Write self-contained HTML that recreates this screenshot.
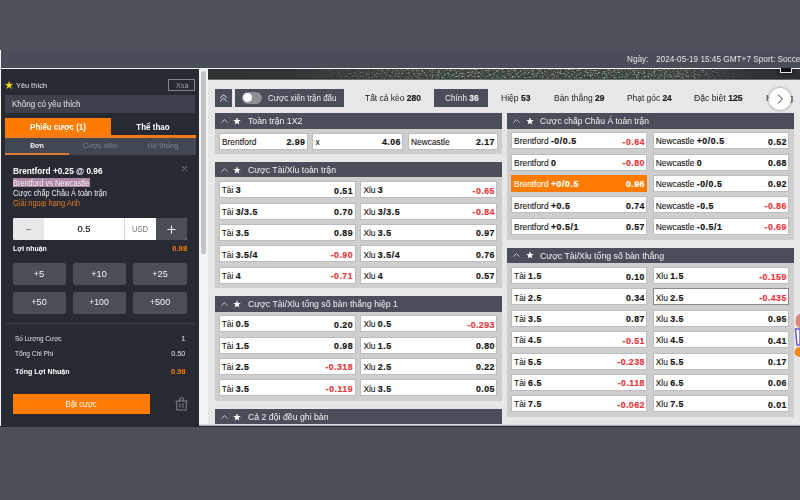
<!DOCTYPE html><html><head><meta charset="utf-8"><style>
*{margin:0;padding:0;box-sizing:border-box}
html,body{width:800px;height:500px;overflow:hidden;background:#4b4f58;font-family:"Liberation Sans",sans-serif}
div{position:absolute}
.t{white-space:nowrap;line-height:1}
.t b,.sb{-webkit-text-stroke:0.2px currentColor}
.cell{background:#fff;border:1px solid #bdbdbd}
.hdr{background:#4a4e5a}
.body{background:#cecece}
.qb{background:#4a4e57;border-radius:2px}
b{font-weight:bold}
</style></head><body>
<div style="left:0px;top:0px;width:800px;height:50px;background:#4d5159"></div>
<div style="left:0px;top:50px;width:800px;height:18px;background:#494d59"></div>
<div style="left:0px;top:68px;width:800px;height:1px;background:#f4f4f4"></div>
<div style="left:0px;top:50px;width:1px;height:376.5px;background:#f4f4f4"></div>
<div style="left:0px;top:426px;width:800px;height:1px;background:#23262e"></div>
<div style="left:1px;top:427px;width:799px;height:73px;background:#4b4f58"></div>
<div style="left:0px;top:427px;width:1px;height:73px;background:#4b4f58"></div>
<div class="t" style="top:54.69px;font-size:8.6px;line-height:8.6px;color:#e4e4e4;left:626.6px;transform:scaleX(0.953);transform-origin:left center;">Ngày:</div>
<div class="t" style="top:54.69px;font-size:8.6px;line-height:8.6px;color:#e4e4e4;left:655.8px;transform:scaleX(0.958);transform-origin:left center;">2024-05-19 15:45 GMT+7 Sport: Soccer</div>
<div style="left:1px;top:69px;width:197.5px;height:357px;background:#272a33"></div>
<svg style="position:absolute;left:4.5px;top:81px" width="8.2" height="8.2" viewBox="0 0 10 10"><path d="M5 0.3 L6.2 3.6 L9.7 3.7 L6.9 5.9 L7.9 9.4 L5 7.4 L2.1 9.4 L3.1 5.9 L0.3 3.7 L3.8 3.6Z" fill="#f4e41c" stroke="#a89a10" stroke-width="0.4"/></svg>
<div class="t" style="top:81.8px;font-size:8px;line-height:8px;color:#e8e8e8;left:15.7px;transform:scaleX(0.917);transform-origin:left center;">Yêu thích</div>
<div style="left:168px;top:79px;width:27px;height:12px;border:1px solid #7f838a"></div>
<div class="t" style="top:81.62px;font-size:7.5px;line-height:7.5px;color:#a0a3a8;left:175.5px;transform:scaleX(0.922);transform-origin:left center;">Xoá</div>
<div style="left:5px;top:95px;width:190px;height:18px;background:#3d414b"></div>
<div class="t" style="top:99.89px;font-size:8.6px;line-height:8.6px;color:#e6e6e6;left:11.8px;transform:scaleX(0.932);transform-origin:left center;">Không có yêu thích</div>
<div style="left:5px;top:118px;width:106.2px;height:16.5px;background:#ff7c00"></div>
<div style="left:5px;top:134.5px;width:190.6px;height:3.5px;background:#f07a16"></div>
<div class="t" style="top:122.68px;font-size:8.5px;line-height:8.5px;color:#fff;left:-42.3px;width:200px;text-align:center;font-weight:bold;transform:scaleX(0.931);transform-origin:center center;">Phiếu cược (1)</div>
<div class="t" style="top:122.68px;font-size:8.5px;line-height:8.5px;color:#fff;left:52.9px;width:200px;text-align:center;font-weight:bold;transform:scaleX(0.939);transform-origin:center center;">Thể thao</div>
<div style="left:5px;top:138px;width:190.6px;height:16.5px;background:#424853"></div>
<div class="t" style="top:141.64px;font-size:7.3px;line-height:7.3px;color:#f0f0f0;left:-63.5px;width:200px;text-align:center;font-weight:bold;transform:scaleX(0.905);transform-origin:center center;">Đơn</div>
<div class="t" style="top:141.8px;font-size:8px;line-height:8px;color:#737985;left:-0.4px;width:200px;text-align:center;transform:scaleX(0.919);transform-origin:center center;-webkit-text-stroke:0.15px currentColor;">Cược xiên</div>
<div class="t" style="top:141.8px;font-size:8px;line-height:8px;color:#737985;left:63.1px;width:200px;text-align:center;transform:scaleX(0.963);transform-origin:center center;-webkit-text-stroke:0.15px currentColor;">Hệ thống</div>
<div style="left:5px;top:152.6px;width:63.7px;height:2px;background:#dc7a36"></div>
<div class="t" style="top:166.69px;font-size:8.3px;line-height:8.3px;color:#fff;left:13px;font-weight:bold;transform:scaleX(0.995);transform-origin:left center;">Brentford +0.25 @ 0.96</div>
<svg style="position:absolute;left:181px;top:165px" width="7" height="7" viewBox="0 0 7 7"><path d="M1 1L6 6M6 1L1 6" stroke="#7a7e85" stroke-width="0.9"/></svg>
<div style="left:12.75px;top:177.8px;width:77.15px;height:9px;background:#ae87a4"></div>
<div class="t" style="top:179.63px;font-size:8.2px;line-height:8.2px;color:#f4eef2;left:13px;transform:scaleX(0.904);transform-origin:left center;">Brentford vs Newcastle</div>
<div class="t" style="top:189.63px;font-size:8.2px;line-height:8.2px;color:#f0f0f0;left:13px;transform:scaleX(0.893);transform-origin:left center;">Cược chấp Châu Á toàn trận</div>
<div class="t" style="top:199.93px;font-size:8.2px;line-height:8.2px;color:#e27a22;left:13px;transform:scaleX(0.907);transform-origin:left center;">Giải ngoại hạng Anh</div>
<div style="left:13px;top:218.3px;width:174px;height:21.7px;background:#fff;border-radius:2px;overflow:hidden"><div style="left:0px;top:0px;width:30.7px;height:21.7px;background:#e8e8e8"></div><div style="left:111.2px;top:0px;width:32px;height:21.7px;border-left:1px solid #d8d8d8"></div><div style="left:143.2px;top:0px;width:30.8px;height:21.7px;background:#4a4e57"></div></div>
<div style="left:25.8px;top:229px;width:5.2px;height:1.2px;background:#8a8a8a"></div>
<div class="t" style="top:224.59px;font-size:9.3px;line-height:9.3px;color:#1a1a1a;left:-16px;width:200px;text-align:center;transform:scaleX(1.006);transform-origin:center center;-webkit-text-stroke:0.2px currentColor;">0.5</div>
<div class="t" style="top:225.19px;font-size:8.6px;line-height:8.6px;color:#7a7a7a;left:40.2px;width:200px;text-align:center;transform:scaleX(0.895);transform-origin:center center;">USD</div>
<svg style="position:absolute;left:167px;top:224.5px" width="9" height="9" viewBox="0 0 9 9"><path d="M4.5 0.5v8M0.5 4.5h8" stroke="#f2f2f2" stroke-width="1.1"/></svg>
<div class="t" style="top:245.37px;font-size:7.8px;line-height:7.8px;color:#fff;left:13px;font-weight:bold;transform:scaleX(0.887);transform-origin:left center;">Lợi nhuận</div>
<div class="t" style="top:245.37px;font-size:7.8px;line-height:7.8px;color:#ff7c00;right:613px;font-weight:bold;transform:scaleX(0.988);transform-origin:right center;">0.98</div>
<div class="qb" style="left:13px;top:262.5px;width:52.6px;height:22.2px;"></div>
<div class="t" style="top:270.48px;font-size:9.2px;line-height:9.2px;color:#f4f4f4;left:-60.7px;width:200px;text-align:center;transform:scaleX(1.030);transform-origin:center center;">+5</div>
<div class="qb" style="left:73px;top:262.5px;width:52.8px;height:22.2px;"></div>
<div class="t" style="top:270.48px;font-size:9.2px;line-height:9.2px;color:#f4f4f4;left:-0.6px;width:200px;text-align:center;transform:scaleX(0.993);transform-origin:center center;">+10</div>
<div class="qb" style="left:133.3px;top:262.5px;width:53.7px;height:22.2px;"></div>
<div class="t" style="top:270.48px;font-size:9.2px;line-height:9.2px;color:#f4f4f4;left:60.15px;width:200px;text-align:center;transform:scaleX(0.993);transform-origin:center center;">+25</div>
<div class="qb" style="left:13px;top:291.5px;width:52.6px;height:22.3px;"></div>
<div class="t" style="top:298.08px;font-size:9.2px;line-height:9.2px;color:#f4f4f4;left:-60.7px;width:200px;text-align:center;transform:scaleX(0.993);transform-origin:center center;">+50</div>
<div class="qb" style="left:73px;top:291.5px;width:52.8px;height:22.3px;"></div>
<div class="t" style="top:298.08px;font-size:9.2px;line-height:9.2px;color:#f4f4f4;left:-0.6px;width:200px;text-align:center;transform:scaleX(0.941);transform-origin:center center;">+100</div>
<div class="qb" style="left:133.3px;top:291.5px;width:53.7px;height:22.3px;"></div>
<div class="t" style="top:298.08px;font-size:9.2px;line-height:9.2px;color:#f4f4f4;left:60.15px;width:200px;text-align:center;transform:scaleX(0.984);transform-origin:center center;">+500</div>
<div style="left:5px;top:323.3px;width:190px;height:1px;background:#3c4049"></div>
<div class="t" style="top:334.8px;font-size:7.3px;line-height:7.3px;color:#e4e4e4;left:14.5px;transform:scaleX(0.870);transform-origin:left center;">Số Lượng Cược</div>
<div class="t" style="top:334.8px;font-size:7.3px;line-height:7.3px;color:#e4e4e4;right:614.7px;">1</div>
<div class="t" style="top:349.6px;font-size:7.3px;line-height:7.3px;color:#e4e4e4;left:14.5px;transform:scaleX(0.904);transform-origin:left center;">Tổng Chi Phí</div>
<div class="t" style="top:349.6px;font-size:7.3px;line-height:7.3px;color:#e4e4e4;right:614.7px;transform:scaleX(0.985);transform-origin:right center;">0.50</div>
<div class="t" style="top:367.62px;font-size:7.5px;line-height:7.5px;color:#fff;left:14.5px;font-weight:bold;transform:scaleX(0.943);transform-origin:left center;">Tổng Lợi Nhuận</div>
<div class="t" style="top:367.62px;font-size:7.5px;line-height:7.5px;color:#ff7c00;right:614.7px;font-weight:bold;transform:scaleX(0.993);transform-origin:right center;">0.98</div>
<div style="left:13px;top:393.8px;width:136.5px;height:20px;background:#ff7c00"></div>
<div class="t" style="top:400.29px;font-size:8.6px;line-height:8.6px;color:#fff;left:-19px;width:200px;text-align:center;transform:scaleX(0.867);transform-origin:center center;">Đặt cược</div>
<svg style="position:absolute;left:174.5px;top:396.5px" width="13" height="14" viewBox="0 0 13 14"><g fill="none" stroke="#777b83" stroke-width="1.1"><path d="M0.5 4h12"/><path d="M4.5 4V2.5Q4.5 0.8 6.5 0.8Q8.5 0.8 8.5 2.5V4"/><path d="M1.8 4v9h9.4V4"/><path d="M5 6.2v4.6M8 6.2v4.6"/></g></svg>
<div style="left:198.5px;top:69px;width:9.5px;height:357px;background:#f3f3f3"></div>
<div style="left:201px;top:70.5px;width:5.2px;height:183.5px;background:#c3c3c3;border-radius:2.6px"></div>
<div style="left:208px;top:69px;width:592px;height:357px;background:#e7e7e7"></div>
<div style="left:198.5px;top:424.3px;width:601.5px;height:1.7px;background:linear-gradient(#e7e7e7,#9a9da2)"></div>
<svg style="position:absolute;left:208px;top:69px" width="592" height="10.5" viewBox="0 0 592 10.5"><defs><filter id="nz" x="0" y="0" width="100%" height="100%"><feTurbulence type="fractalNoise" baseFrequency="0.5 0.7" numOctaves="3" seed="5"/><feColorMatrix type="matrix" values="0 0 0 0 0.62  0 0 0 0 0.70  0 0 0 0 0.62  0 0 0 2.2 -1.05"/></filter><linearGradient id="bg1" x1="0" x2="1" y1="0" y2="0"><stop offset="0" stop-color="#2d3233"/><stop offset="0.15" stop-color="#303635"/><stop offset="0.25" stop-color="#363d39"/><stop offset="0.35" stop-color="#3a423c"/><stop offset="0.78" stop-color="#3b433d"/><stop offset="0.88" stop-color="#30363a"/><stop offset="1" stop-color="#2a2e32"/></linearGradient><linearGradient id="mk" x1="0" x2="1" y1="0" y2="0"><stop offset="0" stop-color="#fff" stop-opacity="0"/><stop offset="0.15" stop-color="#fff" stop-opacity="0.03"/><stop offset="0.22" stop-color="#fff" stop-opacity="0.25"/><stop offset="0.3" stop-color="#fff" stop-opacity="0.6"/><stop offset="0.4" stop-color="#fff" stop-opacity="0.9"/><stop offset="0.8" stop-color="#fff" stop-opacity="1"/><stop offset="0.87" stop-color="#fff" stop-opacity="0.25"/><stop offset="0.93" stop-color="#fff" stop-opacity="0"/></linearGradient><mask id="m1"><rect width="592" height="10.5" fill="url(#mk)"/></mask></defs><rect width="592" height="10.5" fill="url(#bg1)"/><rect width="592" height="10.5" filter="url(#nz)" mask="url(#m1)"/><rect y="9.5" width="592" height="1" fill="#262a2c" opacity="0.6"/></svg>
<div style="left:214.7px;top:89px;width:17.1px;height:17.5px;background:#4a4e5a"></div>
<svg style="position:absolute;left:218px;top:92px" width="11" height="11" viewBox="0 0 11 11"><g fill="none" stroke="#e6e6e6" stroke-width="1"><path d="M2.2 6L5.5 2.7L8.8 6"/><path d="M2.2 9.3L5.5 6L8.8 9.3"/></g></svg>
<div style="left:235px;top:89px;width:108.8px;height:17.5px;background:#4a4e5a"></div>
<div style="left:241.6px;top:92px;width:20.6px;height:11.7px;background:#8c8f95;border-radius:6px"></div>
<div style="left:242.8px;top:92.8px;width:9.5px;height:9.5px;background:#fff;border-radius:50%"></div>
<div class="t" style="top:93.59px;font-size:8.6px;line-height:8.6px;color:#f0f0f0;left:267.5px;transform:scaleX(0.925);transform-origin:left center;">Cược xiên trận đấu</div>
<div class="t" style="top:93.69px;font-size:8.6px;line-height:8.6px;color:#222;left:365px;transform:scaleX(0.984);transform-origin:left center;">Tất cả kèo <b>280</b></div>
<div style="left:434.2px;top:89.2px;width:54px;height:17.5px;background:#4a4e5a"></div>
<div class="t" style="top:93.69px;font-size:8.6px;line-height:8.6px;color:#f0f0f0;left:444.5px;transform:scaleX(0.960);transform-origin:left center;">Chính <b>36</b></div>
<div class="t" style="top:93.69px;font-size:8.6px;line-height:8.6px;color:#222;left:501px;transform:scaleX(0.995);transform-origin:left center;">Hiệp <b>53</b></div>
<div class="t" style="top:93.69px;font-size:8.6px;line-height:8.6px;color:#222;left:553.6px;transform:scaleX(0.985);transform-origin:left center;">Bàn thắng <b>29</b></div>
<div class="t" style="top:93.69px;font-size:8.6px;line-height:8.6px;color:#222;left:626.8px;transform:scaleX(0.976);transform-origin:left center;">Phạt góc <b>24</b></div>
<div class="t" style="top:93.69px;font-size:8.6px;line-height:8.6px;color:#222;left:694.4px;transform:scaleX(1.007);transform-origin:left center;">Đặc biệt <b>125</b></div>
<div class="t" style="top:93.69px;font-size:8.6px;line-height:8.6px;color:#222;left:766px;">Hướng</div>
<div style="left:768.5px;top:87.5px;width:22.5px;height:22.5px;background:#fff;border-radius:50%;box-shadow:0 0 2.5px 0.5px rgba(0,0,0,.3)"></div>
<svg style="position:absolute;left:775px;top:93px" width="10" height="12" viewBox="0 0 10 12"><path d="M3 1.5L7.5 6L3 10.5" fill="none" stroke="#333" stroke-width="1"/></svg>
<div style="left:776px;top:69px;width:19px;height:6px;background:#25292c"></div>
<div style="left:780px;top:68px;width:12px;height:5px;background:#111;border:1.2px solid #e8e8e8;border-top:none;border-radius:0 0 1px 1px"></div>
<div class="hdr" style="left:214.5px;top:113px;width:287.1px;height:15.5px;"></div>
<svg style="position:absolute;left:220.7px;top:118.8px" width="7" height="4" viewBox="0 0 7 4"><path d="M0.5 3.6L3.5 0.6L6.5 3.6" fill="none" stroke="#cfd1d5" stroke-width="0.9"/></svg>
<svg style="position:absolute;left:233.3px;top:116.6px" width="8" height="8" viewBox="0 0 10 10"><path d="M5 0.3 L6.2 3.6 L9.7 3.7 L6.9 5.9 L7.9 9.4 L5 7.4 L2.1 9.4 L3.1 5.9 L0.3 3.7 L3.8 3.6Z" fill="#fff"/></svg>
<div class="t" style="top:117.09px;font-size:9.3px;line-height:9.3px;color:#f2f2f2;left:247.5px;transform:scaleX(0.938);transform-origin:left center;">Toàn trận 1X2</div>
<div class="body" style="left:214.5px;top:128.5px;width:287.1px;height:25px;"></div>
<div class="cell" style="left:218.75px;top:132.75px;width:89.25px;height:17.15px;"></div>
<div class="t" style="top:138.01px;font-size:8.4px;line-height:8.4px;color:#151515;left:221.95px;-webkit-text-stroke:0.1px currentColor;">Brentford</div>
<div class="t" style="top:138.17px;font-size:8.8px;line-height:8.8px;color:#151515;right:494.6px;font-weight:bold;letter-spacing:0.45px;-webkit-text-stroke:0.2px currentColor;">2.99</div>
<div class="cell" style="left:312.4px;top:132.75px;width:91px;height:17.15px;"></div>
<div class="t" style="top:138.01px;font-size:8.4px;line-height:8.4px;color:#151515;left:315.6px;-webkit-text-stroke:0.1px currentColor;">x</div>
<div class="t" style="top:138.17px;font-size:8.8px;line-height:8.8px;color:#151515;right:399.2px;font-weight:bold;letter-spacing:0.45px;-webkit-text-stroke:0.2px currentColor;">4.06</div>
<div class="cell" style="left:407.75px;top:132.75px;width:89.75px;height:17.15px;"></div>
<div class="t" style="top:138.01px;font-size:8.4px;line-height:8.4px;color:#151515;left:410.95px;-webkit-text-stroke:0.1px currentColor;">Newcastle</div>
<div class="t" style="top:138.17px;font-size:8.8px;line-height:8.8px;color:#151515;right:305.1px;font-weight:bold;letter-spacing:0.45px;-webkit-text-stroke:0.2px currentColor;">2.17</div>
<div class="hdr" style="left:214.5px;top:162px;width:287.1px;height:15px;"></div>
<svg style="position:absolute;left:220.7px;top:167.8px" width="7" height="4" viewBox="0 0 7 4"><path d="M0.5 3.6L3.5 0.6L6.5 3.6" fill="none" stroke="#cfd1d5" stroke-width="0.9"/></svg>
<svg style="position:absolute;left:233.3px;top:165.6px" width="8" height="8" viewBox="0 0 10 10"><path d="M5 0.3 L6.2 3.6 L9.7 3.7 L6.9 5.9 L7.9 9.4 L5 7.4 L2.1 9.4 L3.1 5.9 L0.3 3.7 L3.8 3.6Z" fill="#fff"/></svg>
<div class="t" style="top:166.09px;font-size:9.3px;line-height:9.3px;color:#f2f2f2;left:247.5px;transform:scaleX(0.933);transform-origin:left center;">Cược Tài/Xỉu toàn trận</div>
<div class="body" style="left:214.5px;top:177px;width:287.1px;height:111px;"></div>
<div class="cell" style="left:218.5px;top:181.2px;width:137.1px;height:17px;"></div>
<div class="t" style="top:186.46px;font-size:8.4px;line-height:8.4px;color:#151515;left:221.7px;-webkit-text-stroke:0.1px currentColor;">Tài <b style="font-size:8.8px;letter-spacing:0.55px">3</b></div>
<div class="t" style="top:186.62px;font-size:8.8px;line-height:8.8px;color:#151515;right:447px;font-weight:bold;letter-spacing:0.45px;-webkit-text-stroke:0.2px currentColor;">0.51</div>
<div class="cell" style="left:360.2px;top:181.2px;width:137.3px;height:17px;"></div>
<div class="t" style="top:186.46px;font-size:8.4px;line-height:8.4px;color:#151515;left:363.4px;-webkit-text-stroke:0.1px currentColor;">Xỉu <b style="font-size:8.8px;letter-spacing:0.55px">3</b></div>
<div class="t" style="top:186.62px;font-size:8.8px;line-height:8.8px;color:#e8383d;right:305.1px;font-weight:bold;letter-spacing:0.45px;-webkit-text-stroke:0.2px currentColor;">-0.65</div>
<div class="cell" style="left:218.5px;top:202.55px;width:137.1px;height:17px;"></div>
<div class="t" style="top:207.81px;font-size:8.4px;line-height:8.4px;color:#151515;left:221.7px;-webkit-text-stroke:0.1px currentColor;">Tài <b style="font-size:8.8px;letter-spacing:0.55px">3/3.5</b></div>
<div class="t" style="top:207.97px;font-size:8.8px;line-height:8.8px;color:#151515;right:447px;font-weight:bold;letter-spacing:0.45px;-webkit-text-stroke:0.2px currentColor;">0.70</div>
<div class="cell" style="left:360.2px;top:202.55px;width:137.3px;height:17px;"></div>
<div class="t" style="top:207.81px;font-size:8.4px;line-height:8.4px;color:#151515;left:363.4px;-webkit-text-stroke:0.1px currentColor;">Xỉu <b style="font-size:8.8px;letter-spacing:0.55px">3/3.5</b></div>
<div class="t" style="top:207.97px;font-size:8.8px;line-height:8.8px;color:#e8383d;right:305.1px;font-weight:bold;letter-spacing:0.45px;-webkit-text-stroke:0.2px currentColor;">-0.84</div>
<div class="cell" style="left:218.5px;top:223.9px;width:137.1px;height:17px;"></div>
<div class="t" style="top:229.16px;font-size:8.4px;line-height:8.4px;color:#151515;left:221.7px;-webkit-text-stroke:0.1px currentColor;">Tài <b style="font-size:8.8px;letter-spacing:0.55px">3.5</b></div>
<div class="t" style="top:229.32px;font-size:8.8px;line-height:8.8px;color:#151515;right:447px;font-weight:bold;letter-spacing:0.45px;-webkit-text-stroke:0.2px currentColor;">0.89</div>
<div class="cell" style="left:360.2px;top:223.9px;width:137.3px;height:17px;"></div>
<div class="t" style="top:229.16px;font-size:8.4px;line-height:8.4px;color:#151515;left:363.4px;-webkit-text-stroke:0.1px currentColor;">Xỉu <b style="font-size:8.8px;letter-spacing:0.55px">3.5</b></div>
<div class="t" style="top:229.32px;font-size:8.8px;line-height:8.8px;color:#151515;right:305.1px;font-weight:bold;letter-spacing:0.45px;-webkit-text-stroke:0.2px currentColor;">0.97</div>
<div class="cell" style="left:218.5px;top:245.25px;width:137.1px;height:17px;"></div>
<div class="t" style="top:250.51px;font-size:8.4px;line-height:8.4px;color:#151515;left:221.7px;-webkit-text-stroke:0.1px currentColor;">Tài <b style="font-size:8.8px;letter-spacing:0.55px">3.5/4</b></div>
<div class="t" style="top:250.67px;font-size:8.8px;line-height:8.8px;color:#e8383d;right:447px;font-weight:bold;letter-spacing:0.45px;-webkit-text-stroke:0.2px currentColor;">-0.90</div>
<div class="cell" style="left:360.2px;top:245.25px;width:137.3px;height:17px;"></div>
<div class="t" style="top:250.51px;font-size:8.4px;line-height:8.4px;color:#151515;left:363.4px;-webkit-text-stroke:0.1px currentColor;">Xỉu <b style="font-size:8.8px;letter-spacing:0.55px">3.5/4</b></div>
<div class="t" style="top:250.67px;font-size:8.8px;line-height:8.8px;color:#151515;right:305.1px;font-weight:bold;letter-spacing:0.45px;-webkit-text-stroke:0.2px currentColor;">0.76</div>
<div class="cell" style="left:218.5px;top:266.6px;width:137.1px;height:17px;"></div>
<div class="t" style="top:271.86px;font-size:8.4px;line-height:8.4px;color:#151515;left:221.7px;-webkit-text-stroke:0.1px currentColor;">Tài <b style="font-size:8.8px;letter-spacing:0.55px">4</b></div>
<div class="t" style="top:272.02px;font-size:8.8px;line-height:8.8px;color:#e8383d;right:447px;font-weight:bold;letter-spacing:0.45px;-webkit-text-stroke:0.2px currentColor;">-0.71</div>
<div class="cell" style="left:360.2px;top:266.6px;width:137.3px;height:17px;"></div>
<div class="t" style="top:271.86px;font-size:8.4px;line-height:8.4px;color:#151515;left:363.4px;-webkit-text-stroke:0.1px currentColor;">Xỉu <b style="font-size:8.8px;letter-spacing:0.55px">4</b></div>
<div class="t" style="top:272.02px;font-size:8.8px;line-height:8.8px;color:#151515;right:305.1px;font-weight:bold;letter-spacing:0.45px;-webkit-text-stroke:0.2px currentColor;">0.57</div>
<div class="hdr" style="left:214.5px;top:296px;width:287.1px;height:15.6px;"></div>
<svg style="position:absolute;left:220.7px;top:301.8px" width="7" height="4" viewBox="0 0 7 4"><path d="M0.5 3.6L3.5 0.6L6.5 3.6" fill="none" stroke="#cfd1d5" stroke-width="0.9"/></svg>
<svg style="position:absolute;left:233.3px;top:299.6px" width="8" height="8" viewBox="0 0 10 10"><path d="M5 0.3 L6.2 3.6 L9.7 3.7 L6.9 5.9 L7.9 9.4 L5 7.4 L2.1 9.4 L3.1 5.9 L0.3 3.7 L3.8 3.6Z" fill="#fff"/></svg>
<div class="t" style="top:300.1px;font-size:9.3px;line-height:9.3px;color:#f2f2f2;left:247.5px;transform:scaleX(0.937);transform-origin:left center;">Cược Tài/Xỉu tổng số bàn thắng hiệp 1</div>
<div class="body" style="left:214.5px;top:311.6px;width:287.1px;height:89.7px;"></div>
<div class="cell" style="left:218.5px;top:315.2px;width:137.1px;height:17px;"></div>
<div class="t" style="top:320.46px;font-size:8.4px;line-height:8.4px;color:#151515;left:221.7px;-webkit-text-stroke:0.1px currentColor;">Tài <b style="font-size:8.8px;letter-spacing:0.55px">0.5</b></div>
<div class="t" style="top:320.62px;font-size:8.8px;line-height:8.8px;color:#151515;right:447px;font-weight:bold;letter-spacing:0.45px;-webkit-text-stroke:0.2px currentColor;">0.20</div>
<div class="cell" style="left:360.2px;top:315.2px;width:137.3px;height:17px;"></div>
<div class="t" style="top:320.46px;font-size:8.4px;line-height:8.4px;color:#151515;left:363.4px;-webkit-text-stroke:0.1px currentColor;">Xỉu <b style="font-size:8.8px;letter-spacing:0.55px">0.5</b></div>
<div class="t" style="top:320.62px;font-size:8.8px;line-height:8.8px;color:#e8383d;right:305.1px;font-weight:bold;letter-spacing:0.45px;-webkit-text-stroke:0.2px currentColor;">-0.293</div>
<div class="cell" style="left:218.5px;top:336.55px;width:137.1px;height:17px;"></div>
<div class="t" style="top:341.81px;font-size:8.4px;line-height:8.4px;color:#151515;left:221.7px;-webkit-text-stroke:0.1px currentColor;">Tài <b style="font-size:8.8px;letter-spacing:0.55px">1.5</b></div>
<div class="t" style="top:341.97px;font-size:8.8px;line-height:8.8px;color:#151515;right:447px;font-weight:bold;letter-spacing:0.45px;-webkit-text-stroke:0.2px currentColor;">0.98</div>
<div class="cell" style="left:360.2px;top:336.55px;width:137.3px;height:17px;"></div>
<div class="t" style="top:341.81px;font-size:8.4px;line-height:8.4px;color:#151515;left:363.4px;-webkit-text-stroke:0.1px currentColor;">Xỉu <b style="font-size:8.8px;letter-spacing:0.55px">1.5</b></div>
<div class="t" style="top:341.97px;font-size:8.8px;line-height:8.8px;color:#151515;right:305.1px;font-weight:bold;letter-spacing:0.45px;-webkit-text-stroke:0.2px currentColor;">0.80</div>
<div class="cell" style="left:218.5px;top:357.9px;width:137.1px;height:17px;"></div>
<div class="t" style="top:363.16px;font-size:8.4px;line-height:8.4px;color:#151515;left:221.7px;-webkit-text-stroke:0.1px currentColor;">Tài <b style="font-size:8.8px;letter-spacing:0.55px">2.5</b></div>
<div class="t" style="top:363.32px;font-size:8.8px;line-height:8.8px;color:#e8383d;right:447px;font-weight:bold;letter-spacing:0.45px;-webkit-text-stroke:0.2px currentColor;">-0.318</div>
<div class="cell" style="left:360.2px;top:357.9px;width:137.3px;height:17px;"></div>
<div class="t" style="top:363.16px;font-size:8.4px;line-height:8.4px;color:#151515;left:363.4px;-webkit-text-stroke:0.1px currentColor;">Xỉu <b style="font-size:8.8px;letter-spacing:0.55px">2.5</b></div>
<div class="t" style="top:363.32px;font-size:8.8px;line-height:8.8px;color:#151515;right:305.1px;font-weight:bold;letter-spacing:0.45px;-webkit-text-stroke:0.2px currentColor;">0.22</div>
<div class="cell" style="left:218.5px;top:379.25px;width:137.1px;height:17px;"></div>
<div class="t" style="top:384.51px;font-size:8.4px;line-height:8.4px;color:#151515;left:221.7px;-webkit-text-stroke:0.1px currentColor;">Tài <b style="font-size:8.8px;letter-spacing:0.55px">3.5</b></div>
<div class="t" style="top:384.67px;font-size:8.8px;line-height:8.8px;color:#e8383d;right:447px;font-weight:bold;letter-spacing:0.45px;-webkit-text-stroke:0.2px currentColor;">-0.119</div>
<div class="cell" style="left:360.2px;top:379.25px;width:137.3px;height:17px;"></div>
<div class="t" style="top:384.51px;font-size:8.4px;line-height:8.4px;color:#151515;left:363.4px;-webkit-text-stroke:0.1px currentColor;">Xỉu <b style="font-size:8.8px;letter-spacing:0.55px">3.5</b></div>
<div class="t" style="top:384.67px;font-size:8.8px;line-height:8.8px;color:#151515;right:305.1px;font-weight:bold;letter-spacing:0.45px;-webkit-text-stroke:0.2px currentColor;">0.05</div>
<div class="hdr" style="left:214.5px;top:409.3px;width:287.1px;height:14.5px;"></div>
<svg style="position:absolute;left:220.7px;top:415.1px" width="7" height="4" viewBox="0 0 7 4"><path d="M0.5 3.6L3.5 0.6L6.5 3.6" fill="none" stroke="#cfd1d5" stroke-width="0.9"/></svg>
<svg style="position:absolute;left:233.3px;top:412.9px" width="8" height="8" viewBox="0 0 10 10"><path d="M5 0.3 L6.2 3.6 L9.7 3.7 L6.9 5.9 L7.9 9.4 L5 7.4 L2.1 9.4 L3.1 5.9 L0.3 3.7 L3.8 3.6Z" fill="#fff"/></svg>
<div class="t" style="top:413.4px;font-size:9.3px;line-height:9.3px;color:#f2f2f2;left:247.5px;transform:scaleX(0.939);transform-origin:left center;">Cả 2 đội đều ghi bàn</div>
<div class="hdr" style="left:507.1px;top:113px;width:286.7px;height:15.5px;"></div>
<svg style="position:absolute;left:513.3px;top:118.8px" width="7" height="4" viewBox="0 0 7 4"><path d="M0.5 3.6L3.5 0.6L6.5 3.6" fill="none" stroke="#cfd1d5" stroke-width="0.9"/></svg>
<svg style="position:absolute;left:525.9px;top:116.6px" width="8" height="8" viewBox="0 0 10 10"><path d="M5 0.3 L6.2 3.6 L9.7 3.7 L6.9 5.9 L7.9 9.4 L5 7.4 L2.1 9.4 L3.1 5.9 L0.3 3.7 L3.8 3.6Z" fill="#fff"/></svg>
<div class="t" style="top:117.09px;font-size:9.3px;line-height:9.3px;color:#f2f2f2;left:540.1px;transform:scaleX(0.913);transform-origin:left center;">Cược chấp Châu Á toàn trận</div>
<div class="body" style="left:507.1px;top:128.5px;width:286.7px;height:111px;"></div>
<div class="cell" style="left:510.9px;top:132.2px;width:136.6px;height:17px;"></div>
<div class="t" style="top:137.46px;font-size:8.4px;line-height:8.4px;color:#151515;left:514.1px;-webkit-text-stroke:0.1px currentColor;">Brentford <b style="font-size:8.8px;letter-spacing:0.55px">-0/0.5</b></div>
<div class="t" style="top:137.62px;font-size:8.8px;line-height:8.8px;color:#e8383d;right:155.1px;font-weight:bold;letter-spacing:0.45px;-webkit-text-stroke:0.2px currentColor;">-0.64</div>
<div class="cell" style="left:652.5px;top:132.2px;width:136.9px;height:17px;"></div>
<div class="t" style="top:137.46px;font-size:8.4px;line-height:8.4px;color:#151515;left:655.7px;-webkit-text-stroke:0.1px currentColor;">Newcastle <b style="font-size:8.8px;letter-spacing:0.55px">+0/0.5</b></div>
<div class="t" style="top:137.62px;font-size:8.8px;line-height:8.8px;color:#151515;right:13.2px;font-weight:bold;letter-spacing:0.45px;-webkit-text-stroke:0.2px currentColor;">0.52</div>
<div class="cell" style="left:510.9px;top:153.55px;width:136.6px;height:17px;"></div>
<div class="t" style="top:158.81px;font-size:8.4px;line-height:8.4px;color:#151515;left:514.1px;-webkit-text-stroke:0.1px currentColor;">Brentford <b style="font-size:8.8px;letter-spacing:0.55px">0</b></div>
<div class="t" style="top:158.97px;font-size:8.8px;line-height:8.8px;color:#e8383d;right:155.1px;font-weight:bold;letter-spacing:0.45px;-webkit-text-stroke:0.2px currentColor;">-0.80</div>
<div class="cell" style="left:652.5px;top:153.55px;width:136.9px;height:17px;"></div>
<div class="t" style="top:158.81px;font-size:8.4px;line-height:8.4px;color:#151515;left:655.7px;-webkit-text-stroke:0.1px currentColor;">Newcastle <b style="font-size:8.8px;letter-spacing:0.55px">0</b></div>
<div class="t" style="top:158.97px;font-size:8.8px;line-height:8.8px;color:#151515;right:13.2px;font-weight:bold;letter-spacing:0.45px;-webkit-text-stroke:0.2px currentColor;">0.68</div>
<div class="cell" style="left:510.9px;top:174.9px;width:136.6px;height:17px;background:#ff7c00;border-color:#ff7c00"></div>
<div class="t" style="top:180.16px;font-size:8.4px;line-height:8.4px;color:#fff;left:514.1px;-webkit-text-stroke:0.1px currentColor;">Brentford <b style="font-size:8.8px;letter-spacing:0.55px">+0/0.5</b></div>
<div class="t" style="top:180.32px;font-size:8.8px;line-height:8.8px;color:#fff;right:155.1px;font-weight:bold;letter-spacing:0.45px;-webkit-text-stroke:0.2px currentColor;">0.96</div>
<div class="cell" style="left:652.5px;top:174.9px;width:136.9px;height:17px;"></div>
<div class="t" style="top:180.16px;font-size:8.4px;line-height:8.4px;color:#151515;left:655.7px;-webkit-text-stroke:0.1px currentColor;">Newcastle <b style="font-size:8.8px;letter-spacing:0.55px">-0/0.5</b></div>
<div class="t" style="top:180.32px;font-size:8.8px;line-height:8.8px;color:#151515;right:13.2px;font-weight:bold;letter-spacing:0.45px;-webkit-text-stroke:0.2px currentColor;">0.92</div>
<div class="cell" style="left:510.9px;top:196.25px;width:136.6px;height:17px;"></div>
<div class="t" style="top:201.51px;font-size:8.4px;line-height:8.4px;color:#151515;left:514.1px;-webkit-text-stroke:0.1px currentColor;">Brentford <b style="font-size:8.8px;letter-spacing:0.55px">+0.5</b></div>
<div class="t" style="top:201.67px;font-size:8.8px;line-height:8.8px;color:#151515;right:155.1px;font-weight:bold;letter-spacing:0.45px;-webkit-text-stroke:0.2px currentColor;">0.74</div>
<div class="cell" style="left:652.5px;top:196.25px;width:136.9px;height:17px;"></div>
<div class="t" style="top:201.51px;font-size:8.4px;line-height:8.4px;color:#151515;left:655.7px;-webkit-text-stroke:0.1px currentColor;">Newcastle <b style="font-size:8.8px;letter-spacing:0.55px">-0.5</b></div>
<div class="t" style="top:201.67px;font-size:8.8px;line-height:8.8px;color:#e8383d;right:13.2px;font-weight:bold;letter-spacing:0.45px;-webkit-text-stroke:0.2px currentColor;">-0.86</div>
<div class="cell" style="left:510.9px;top:217.6px;width:136.6px;height:17px;"></div>
<div class="t" style="top:222.86px;font-size:8.4px;line-height:8.4px;color:#151515;left:514.1px;-webkit-text-stroke:0.1px currentColor;">Brentford <b style="font-size:8.8px;letter-spacing:0.55px">+0.5/1</b></div>
<div class="t" style="top:223.02px;font-size:8.8px;line-height:8.8px;color:#151515;right:155.1px;font-weight:bold;letter-spacing:0.45px;-webkit-text-stroke:0.2px currentColor;">0.57</div>
<div class="cell" style="left:652.5px;top:217.6px;width:136.9px;height:17px;"></div>
<div class="t" style="top:222.86px;font-size:8.4px;line-height:8.4px;color:#151515;left:655.7px;-webkit-text-stroke:0.1px currentColor;">Newcastle <b style="font-size:8.8px;letter-spacing:0.55px">-0.5/1</b></div>
<div class="t" style="top:223.02px;font-size:8.8px;line-height:8.8px;color:#e8383d;right:13.2px;font-weight:bold;letter-spacing:0.45px;-webkit-text-stroke:0.2px currentColor;">-0.69</div>
<div class="hdr" style="left:507.1px;top:247.5px;width:286.7px;height:15px;"></div>
<svg style="position:absolute;left:513.3px;top:253.3px" width="7" height="4" viewBox="0 0 7 4"><path d="M0.5 3.6L3.5 0.6L6.5 3.6" fill="none" stroke="#cfd1d5" stroke-width="0.9"/></svg>
<svg style="position:absolute;left:525.9px;top:251.1px" width="8" height="8" viewBox="0 0 10 10"><path d="M5 0.3 L6.2 3.6 L9.7 3.7 L6.9 5.9 L7.9 9.4 L5 7.4 L2.1 9.4 L3.1 5.9 L0.3 3.7 L3.8 3.6Z" fill="#fff"/></svg>
<div class="t" style="top:251.59px;font-size:9.3px;line-height:9.3px;color:#f2f2f2;left:540.1px;transform:scaleX(0.939);transform-origin:left center;">Cược Tài/Xỉu tổng số bàn thắng</div>
<div class="body" style="left:507.1px;top:262.5px;width:286.7px;height:154px;"></div>
<div class="cell" style="left:510.9px;top:267.1px;width:136.6px;height:17px;"></div>
<div class="t" style="top:272.36px;font-size:8.4px;line-height:8.4px;color:#151515;left:514.1px;-webkit-text-stroke:0.1px currentColor;">Tài <b style="font-size:8.8px;letter-spacing:0.55px">1.5</b></div>
<div class="t" style="top:272.52px;font-size:8.8px;line-height:8.8px;color:#151515;right:155.1px;font-weight:bold;letter-spacing:0.45px;-webkit-text-stroke:0.2px currentColor;">0.10</div>
<div class="cell" style="left:652.5px;top:267.1px;width:136.9px;height:17px;"></div>
<div class="t" style="top:272.36px;font-size:8.4px;line-height:8.4px;color:#151515;left:655.7px;-webkit-text-stroke:0.1px currentColor;">Xỉu <b style="font-size:8.8px;letter-spacing:0.55px">1.5</b></div>
<div class="t" style="top:272.52px;font-size:8.8px;line-height:8.8px;color:#e8383d;right:13.2px;font-weight:bold;letter-spacing:0.45px;-webkit-text-stroke:0.2px currentColor;">-0.159</div>
<div class="cell" style="left:510.9px;top:288.45px;width:136.6px;height:17px;"></div>
<div class="t" style="top:293.71px;font-size:8.4px;line-height:8.4px;color:#151515;left:514.1px;-webkit-text-stroke:0.1px currentColor;">Tài <b style="font-size:8.8px;letter-spacing:0.55px">2.5</b></div>
<div class="t" style="top:293.87px;font-size:8.8px;line-height:8.8px;color:#151515;right:155.1px;font-weight:bold;letter-spacing:0.45px;-webkit-text-stroke:0.2px currentColor;">0.34</div>
<div class="cell" style="left:652.5px;top:288.45px;width:136.9px;height:17px;border-color:#8a8a8a"></div>
<div class="t" style="top:293.71px;font-size:8.4px;line-height:8.4px;color:#151515;left:655.7px;-webkit-text-stroke:0.1px currentColor;">Xỉu <b style="font-size:8.8px;letter-spacing:0.55px">2.5</b></div>
<div class="t" style="top:293.87px;font-size:8.8px;line-height:8.8px;color:#e8383d;right:13.2px;font-weight:bold;letter-spacing:0.45px;-webkit-text-stroke:0.2px currentColor;">-0.435</div>
<div class="cell" style="left:510.9px;top:309.8px;width:136.6px;height:17px;"></div>
<div class="t" style="top:315.06px;font-size:8.4px;line-height:8.4px;color:#151515;left:514.1px;-webkit-text-stroke:0.1px currentColor;">Tài <b style="font-size:8.8px;letter-spacing:0.55px">3.5</b></div>
<div class="t" style="top:315.22px;font-size:8.8px;line-height:8.8px;color:#151515;right:155.1px;font-weight:bold;letter-spacing:0.45px;-webkit-text-stroke:0.2px currentColor;">0.87</div>
<div class="cell" style="left:652.5px;top:309.8px;width:136.9px;height:17px;"></div>
<div class="t" style="top:315.06px;font-size:8.4px;line-height:8.4px;color:#151515;left:655.7px;-webkit-text-stroke:0.1px currentColor;">Xỉu <b style="font-size:8.8px;letter-spacing:0.55px">3.5</b></div>
<div class="t" style="top:315.22px;font-size:8.8px;line-height:8.8px;color:#151515;right:13.2px;font-weight:bold;letter-spacing:0.45px;-webkit-text-stroke:0.2px currentColor;">0.95</div>
<div class="cell" style="left:510.9px;top:331.15px;width:136.6px;height:17px;"></div>
<div class="t" style="top:336.41px;font-size:8.4px;line-height:8.4px;color:#151515;left:514.1px;-webkit-text-stroke:0.1px currentColor;">Tài <b style="font-size:8.8px;letter-spacing:0.55px">4.5</b></div>
<div class="t" style="top:336.57px;font-size:8.8px;line-height:8.8px;color:#e8383d;right:155.1px;font-weight:bold;letter-spacing:0.45px;-webkit-text-stroke:0.2px currentColor;">-0.51</div>
<div class="cell" style="left:652.5px;top:331.15px;width:136.9px;height:17px;"></div>
<div class="t" style="top:336.41px;font-size:8.4px;line-height:8.4px;color:#151515;left:655.7px;-webkit-text-stroke:0.1px currentColor;">Xỉu <b style="font-size:8.8px;letter-spacing:0.55px">4.5</b></div>
<div class="t" style="top:336.57px;font-size:8.8px;line-height:8.8px;color:#151515;right:13.2px;font-weight:bold;letter-spacing:0.45px;-webkit-text-stroke:0.2px currentColor;">0.41</div>
<div class="cell" style="left:510.9px;top:352.5px;width:136.6px;height:17px;"></div>
<div class="t" style="top:357.76px;font-size:8.4px;line-height:8.4px;color:#151515;left:514.1px;-webkit-text-stroke:0.1px currentColor;">Tài <b style="font-size:8.8px;letter-spacing:0.55px">5.5</b></div>
<div class="t" style="top:357.92px;font-size:8.8px;line-height:8.8px;color:#e8383d;right:155.1px;font-weight:bold;letter-spacing:0.45px;-webkit-text-stroke:0.2px currentColor;">-0.238</div>
<div class="cell" style="left:652.5px;top:352.5px;width:136.9px;height:17px;"></div>
<div class="t" style="top:357.76px;font-size:8.4px;line-height:8.4px;color:#151515;left:655.7px;-webkit-text-stroke:0.1px currentColor;">Xỉu <b style="font-size:8.8px;letter-spacing:0.55px">5.5</b></div>
<div class="t" style="top:357.92px;font-size:8.8px;line-height:8.8px;color:#151515;right:13.2px;font-weight:bold;letter-spacing:0.45px;-webkit-text-stroke:0.2px currentColor;">0.17</div>
<div class="cell" style="left:510.9px;top:373.85px;width:136.6px;height:17px;"></div>
<div class="t" style="top:379.11px;font-size:8.4px;line-height:8.4px;color:#151515;left:514.1px;-webkit-text-stroke:0.1px currentColor;">Tài <b style="font-size:8.8px;letter-spacing:0.55px">6.5</b></div>
<div class="t" style="top:379.27px;font-size:8.8px;line-height:8.8px;color:#e8383d;right:155.1px;font-weight:bold;letter-spacing:0.45px;-webkit-text-stroke:0.2px currentColor;">-0.118</div>
<div class="cell" style="left:652.5px;top:373.85px;width:136.9px;height:17px;"></div>
<div class="t" style="top:379.11px;font-size:8.4px;line-height:8.4px;color:#151515;left:655.7px;-webkit-text-stroke:0.1px currentColor;">Xỉu <b style="font-size:8.8px;letter-spacing:0.55px">6.5</b></div>
<div class="t" style="top:379.27px;font-size:8.8px;line-height:8.8px;color:#151515;right:13.2px;font-weight:bold;letter-spacing:0.45px;-webkit-text-stroke:0.2px currentColor;">0.06</div>
<div class="cell" style="left:510.9px;top:395.2px;width:136.6px;height:17px;"></div>
<div class="t" style="top:400.46px;font-size:8.4px;line-height:8.4px;color:#151515;left:514.1px;-webkit-text-stroke:0.1px currentColor;">Tài <b style="font-size:8.8px;letter-spacing:0.55px">7.5</b></div>
<div class="t" style="top:400.62px;font-size:8.8px;line-height:8.8px;color:#e8383d;right:155.1px;font-weight:bold;letter-spacing:0.45px;-webkit-text-stroke:0.2px currentColor;">-0.062</div>
<div class="cell" style="left:652.5px;top:395.2px;width:136.9px;height:17px;"></div>
<div class="t" style="top:400.46px;font-size:8.4px;line-height:8.4px;color:#151515;left:655.7px;-webkit-text-stroke:0.1px currentColor;">Xỉu <b style="font-size:8.8px;letter-spacing:0.55px">7.5</b></div>
<div class="t" style="top:400.62px;font-size:8.8px;line-height:8.8px;color:#151515;right:13.2px;font-weight:bold;letter-spacing:0.45px;-webkit-text-stroke:0.2px currentColor;">0.01</div>
<svg style="position:absolute;left:793px;top:312px" width="7" height="46" viewBox="0 0 7 46"><ellipse cx="7.5" cy="9" rx="5" ry="7" fill="#d77a6c" opacity="0.85"/><path d="M2.5 17 L7 17 L7 33 L4 33 Z" fill="#fff" stroke="#6d5bd0" stroke-width="1.5"/><ellipse cx="7" cy="40" rx="5.5" ry="5" fill="#f08a1c"/></svg>
</body></html>
